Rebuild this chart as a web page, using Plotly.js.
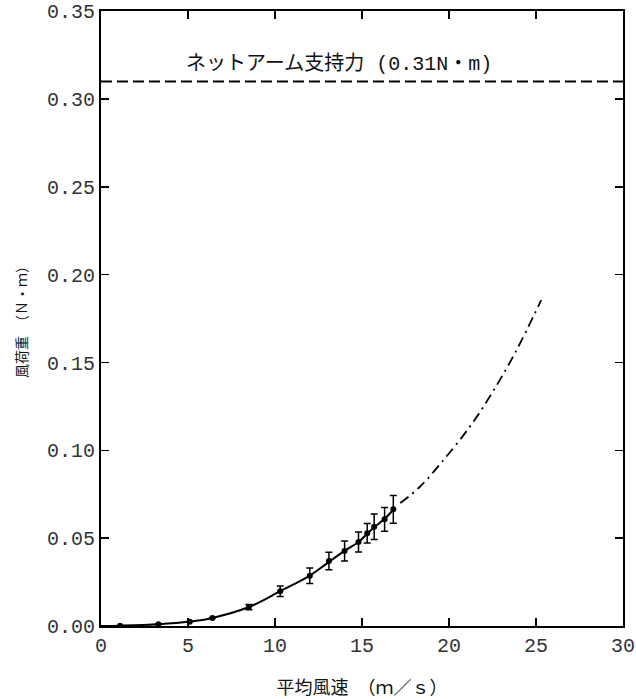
<!DOCTYPE html>
<html>
<head>
<meta charset="utf-8">
<script src="https://cdn.plot.ly/plotly-3.0.1.min.js"></script>
<style>html,body{margin:0;padding:0;background:#fff;}#chart{width:636px;height:699px;}</style>
</head>
<body>
<div id="chart"></div>
<script>
// measured mean wind speed (m/s) and wind load (N·m)
const speed = [1.1, 3.3, 5.1, 6.4, 8.5, 10.3, 12.0, 13.1, 14.0, 14.8, 15.3, 15.7, 16.3, 16.8];
const load  = [0.0002, 0.001, 0.0024, 0.0046, 0.0108, 0.0198, 0.0286, 0.0370, 0.0427, 0.0478, 0.0528, 0.0565, 0.0607, 0.0664];
const loadErr = [0, 0, 0, 0, 0.0015, 0.003, 0.0044, 0.005, 0.0057, 0.0057, 0.0056, 0.0073, 0.0067, 0.0079];

// fitted curve (solid)
const fitX = [0, 1.1, 3.3, 5.1, 6.4, 8.5, 10.3, 12.0, 13.1, 14.0, 14.8, 15.3, 15.7, 16.3, 16.8];
const fitY = [0, 0.0002, 0.001, 0.0025, 0.0046, 0.0108, 0.0198, 0.0287, 0.0365, 0.0428, 0.0478, 0.0525, 0.0562, 0.061, 0.0662];

// extrapolated curve (dash-dot)
const extX = [17.2, 18.3, 19.6, 21.2, 22.4, 23.8, 25.3];
const extY = [0.070, 0.079, 0.0935, 0.1135, 0.1315, 0.1555, 0.1855];

// net arm supporting force
const supportLevel = 0.31;
const supportX = [0, 30];
const supportLabel = 'ネットアーム支持力 (0.31N・m)';

const xTitle = '平均風速　（ｍ／ｓ）';
const yTitle = '風荷重　（Ｎ・ｍ）';
const yTicks = [0, 0.05, 0.10, 0.15, 0.20, 0.25, 0.30, 0.35];
const yTickText = ['0.00', '0.05', '0.10', '0.15', '0.20', '0.25', '0.30', '0.35'];

const traces = [
  {x: fitX, y: fitY, mode: 'lines', line: {color: '#000', width: 2, shape: 'spline'}, hoverinfo: 'skip'},
  {x: extX, y: extY, mode: 'lines', line: {color: '#000', width: 1.8, dash: '10px,5px,2px,5px', shape: 'spline'}, hoverinfo: 'skip'},
  {x: supportX, y: supportX.map(() => supportLevel), mode: 'lines', line: {color: '#000', width: 2, dash: '11px,5px'}},
  {x: speed, y: load, mode: 'markers', marker: {color: '#000', size: 6},
   error_y: {type: 'data', array: loadErr, visible: true, color: '#000', thickness: 1.5, width: 3.5}}
];

const tickFont = {family: 'Liberation Mono, monospace', size: 20, color: '#333'};
const layout = {
  width: 636, height: 699,
  margin: {l: 101, r: 13, t: 11, b: 73},
  showlegend: false,
  paper_bgcolor: '#fff', plot_bgcolor: '#fff',
  xaxis: {
    range: [0, 30.001], tickvals: [0, 5, 10, 15, 20, 25, 30],
    showgrid: false, zeroline: false,
    showline: true, linecolor: '#000', linewidth: 2, mirror: 'ticks',
    ticks: 'inside', ticklen: 8, tickwidth: 1.5, tickcolor: '#000',
    tickfont: tickFont,
    title: {text: xTitle, font: {family: 'Noto Sans CJK JP', size: 18, color: '#111'}, standoff: 28},
    automargin: false
  },
  yaxis: {
    range: [0, 0.3501], tickvals: yTicks, ticktext: yTickText,
    showgrid: false, zeroline: false,
    showline: true, linecolor: '#000', linewidth: 2, mirror: 'ticks',
    ticks: 'inside', ticklen: 8, tickwidth: 1.5, tickcolor: '#000',
    tickfont: tickFont,
    title: {text: yTitle, font: {family: 'Noto Sans CJK JP', size: 14, color: '#111'}, standoff: 16},
    automargin: false
  },
  annotations: [{
    x: 13.7, y: supportLevel, xref: 'x', yref: 'y', yanchor: 'bottom', yshift: 3,
    text: supportLabel, showarrow: false,
    font: {family: 'Liberation Mono, Noto Sans CJK JP', size: 20, color: '#111'}
  }]
};

Plotly.newPlot('chart', traces, layout, {staticPlot: true, displayModeBar: false});
</script>
</body>
</html>
